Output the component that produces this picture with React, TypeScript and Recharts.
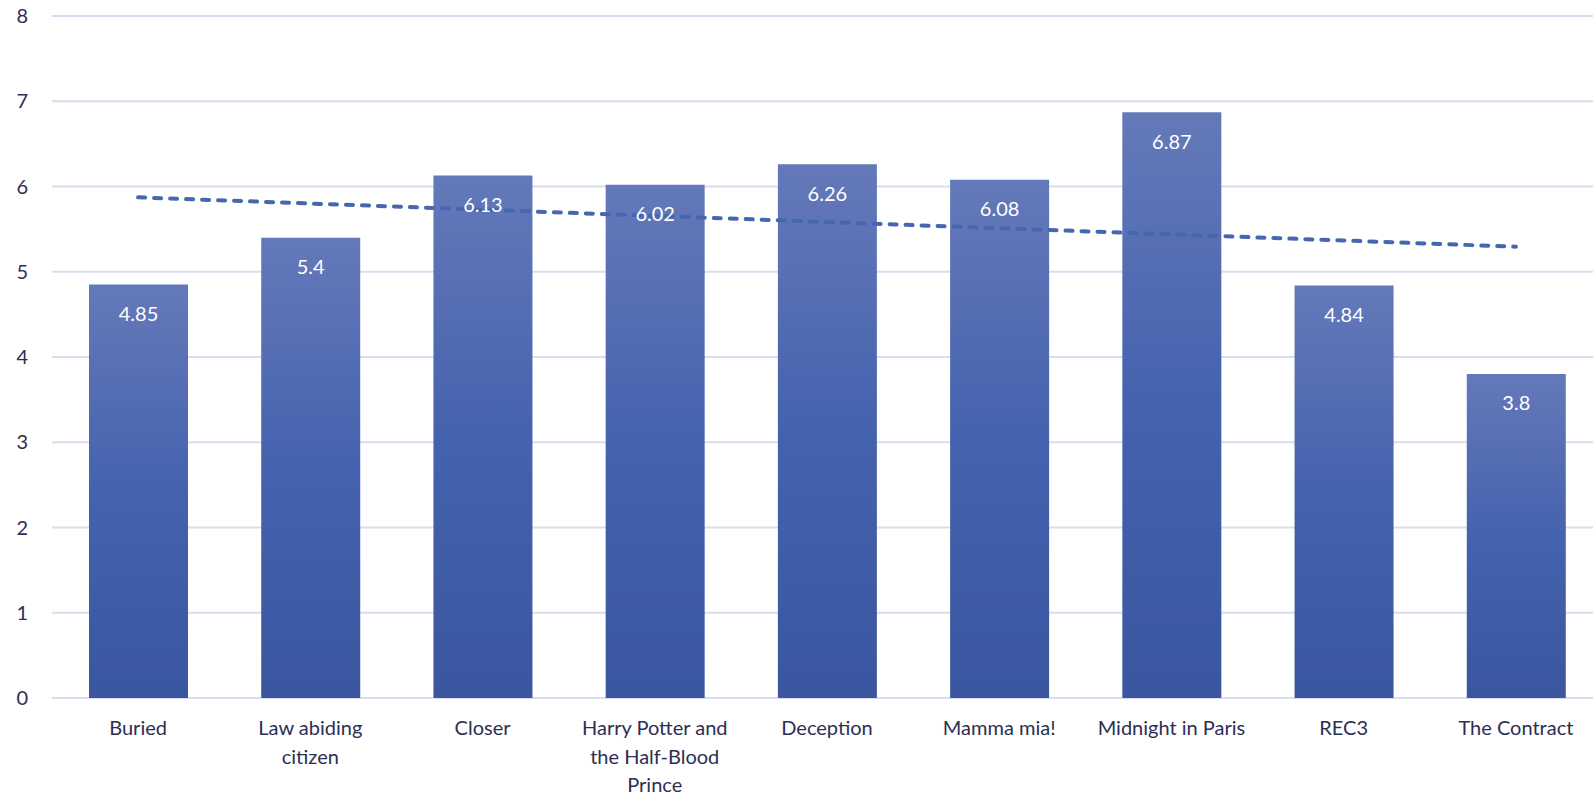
import React from "react";
import {
  ComposedChart,
  Bar,
  Line,
  XAxis,
  YAxis,
  CartesianGrid,
  LabelList,
} from "recharts";

const movies = [
  "Buried",
  "Law abiding citizen",
  "Closer",
  "Harry Potter and the Half-Blood Prince",
  "Deception",
  "Mamma mia!",
  "Midnight in Paris",
  "REC3",
  "The Contract",
];
const ratings = [4.85, 5.4, 6.13, 6.02, 6.26, 6.08, 6.87, 4.84, 3.8];
const yTicks = [0, 1, 2, 3, 4, 5, 6, 7, 8];

// linear trendline (least squares), like the spreadsheet one
const n = ratings.length;
const xMean = (n + 1) / 2;
const yMean = ratings.reduce((a, b) => a + b, 0) / n;
let num = 0;
let den = 0;
ratings.forEach((y, i) => {
  num += (i + 1 - xMean) * (y - yMean);
  den += (i + 1 - xMean) ** 2;
});
const slope = num / den;

const data = movies.map((name, i) => ({
  name,
  rating: ratings[i],
  trend: yMean + slope * (i + 1 - xMean),
}));

const FONT = "Lato, 'Open Sans', sans-serif";
const TEXT = "#2c2f52";

function wrap(label: string, max = 17) {
  const lines: string[] = [];
  let cur = "";
  label.split(" ").forEach((w) => {
    const next = cur ? cur + " " + w : w;
    if (next.length > max && cur) {
      lines.push(cur);
      cur = w;
    } else cur = next;
  });
  if (cur) lines.push(cur);
  return lines;
}

const XTick = (props: any) => {
  const { x, y, payload } = props;
  const lines = wrap(payload.value);
  return (
    <text x={x} y={y} textAnchor="middle" fill={TEXT} fontSize={20} fontFamily={FONT}>
      {lines.map((l, i) => (
        <tspan key={i} x={x} dy={i === 0 ? 29 : 28.5}>
          {l}
        </tspan>
      ))}
    </text>
  );
};

export default function App() {
  return (
    <div
      style={{
        position: "absolute",
        left: 0,
        top: 0,
        width: 1593,
        height: 798,
        overflow: "hidden",
        background: "#fff",
      }}
    >
      <ComposedChart
        width={1602}
        height={798}
        data={data}
        margin={{ top: 16, right: 0, bottom: 0, left: 0 }}
        barSize={99}
      >
        <defs>
          <linearGradient id="barFill" x1="0" y1="0" x2="0" y2="1">
            <stop offset="0%" stopColor="#6479b9" />
            <stop offset="50%" stopColor="#4562ae" />
            <stop offset="100%" stopColor="#3a56a0" />
          </linearGradient>
        </defs>
        <CartesianGrid vertical={false} stroke="#dadcef" strokeWidth={2} />
        <XAxis
          dataKey="name"
          axisLine={false}
          tickLine={false}
          height={100}
          interval={0}
          tick={<XTick />}
        />
        <YAxis
          domain={[0, 8]}
          ticks={yTicks}
          width={52}
          axisLine={false}
          tickLine={false}
          tickSize={0}
          tickMargin={24}
          tick={{ fill: TEXT, fontSize: 20, fontFamily: FONT }}
        />
        <Bar dataKey="rating" fill="url(#barFill)" isAnimationActive={false}>
          <LabelList
            dataKey="rating"
            position="insideTop"
            offset={22}
            fill="#ffffff"
            fontSize={20}
            fontFamily={FONT}
          />
        </Bar>
        <Line
          dataKey="trend"
          stroke="#4666b0"
          strokeWidth={4}
          strokeDasharray="7 9"
          strokeLinecap="round"
          dot={false}
          activeDot={false}
          isAnimationActive={false}
        />
      </ComposedChart>
    </div>
  );
}
